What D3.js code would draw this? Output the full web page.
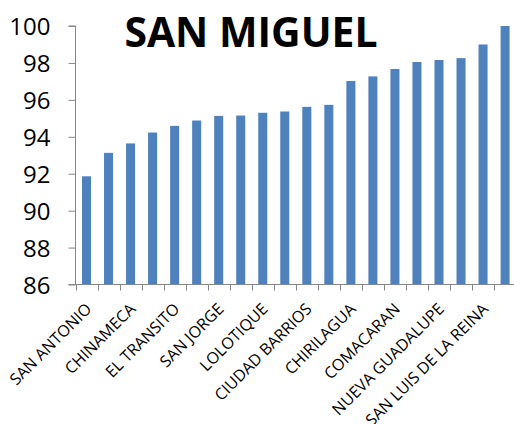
<!DOCTYPE html>
<html><head><meta charset="utf-8">
<script src="https://cdn.jsdelivr.net/npm/d3@7"></script>
<style>html,body{margin:0;padding:0;background:#fff;}svg{display:block;}</style>
</head><body>
<svg id="chart" width="514" height="424"></svg>
<script>
// Data (20 bars, every other one labelled)
const categories = ["SAN ANTONIO","","CHINAMECA","","EL TRANSITO","","SAN JORGE","","LOLOTIQUE","",
                    "CIUDAD BARRIOS","","CHIRILAGUA","","COMACARAN","","NUEVA GUADALUPE","","SAN LUIS DE LA REINA",""];
const values = [91.86,93.13,93.64,94.23,94.59,94.88,95.13,95.15,95.30,95.37,
                95.62,95.73,97.02,97.27,97.67,98.05,98.16,98.26,99.0,100];
const yTicks = [86,88,90,92,94,96,98,100];
const title = "SAN MIGUEL";

const svg = d3.select("#chart");
const axisColor = "#868686";
const barColor = "#4F81BD";

const x0 = 75.5, y0 = 284.5, yTop = 26;
const band = 22.03;
const x = d3.scaleBand().domain(d3.range(values.length))
  .range([x0, x0 + band * values.length]).paddingInner(0.59).paddingOuter(0.295);
const y = d3.scaleLinear().domain([86, 100]).range([y0, yTop]);

// bars
svg.append("g").selectAll("rect").data(values).join("rect")
  .attr("x", (d, i) => x(i))
  .attr("y", d => y(d))
  .attr("width", x.bandwidth())
  .attr("height", d => y0 - y(d))
  .attr("fill", barColor);

// y axis
const yAxis = svg.append("g").attr("transform", `translate(${x0},0)`)
  .call(d3.axisLeft(y).tickValues(yTicks).tickSize(7).tickPadding(18).tickFormat(d3.format("d")));
yAxis.select(".domain").attr("stroke", axisColor).attr("d", `M-7,${yTop}H0V${y0}`);
yAxis.selectAll(".tick line").attr("stroke", axisColor);
yAxis.selectAll(".tick text").attr("fill", "#000")
  .style("font-family", "Open Sans").style("font-size", "24px").attr("dy", "0.36em");

// x axis line and ticks at category boundaries
const xg = svg.append("g");
xg.append("line").attr("x1", x0 - 7).attr("x2", 514).attr("y1", y0).attr("y2", y0)
  .attr("stroke", axisColor);
const bounds = d3.range(values.length + 1).map(i => x0 + i * band);
xg.selectAll("line.tk").data(bounds).join("line").attr("class", "tk")
  .attr("x1", d => Math.round(d) + 0.5).attr("x2", d => Math.round(d) + 0.5)
  .attr("y1", y0).attr("y2", y0 + 6).attr("stroke", axisColor);

// category labels
svg.append("g").selectAll("text").data(categories.map((c, i) => ({c, i})).filter(d => d.c))
  .join("text")
  .attr("transform", d => `translate(${x(d.i) + x.bandwidth() / 2 + 6},310) rotate(-45)`)
  .attr("text-anchor", "end")
  .style("font-family", "Open Sans").style("font-size", "16px")
  .attr("fill", "#000")
  .text(d => d.c);

// title
const t = svg.append("text").attr("x", 251).attr("y", 47).attr("text-anchor", "middle")
  .style("font-family", "Open Sans").style("font-weight", "bold").style("font-size", "42px")
  .attr("fill", "#000").text(title);
const w = t.node().getComputedTextLength();
t.style("font-size", (42 * 253 / w).toFixed(1) + "px");
</script>
</body></html>
